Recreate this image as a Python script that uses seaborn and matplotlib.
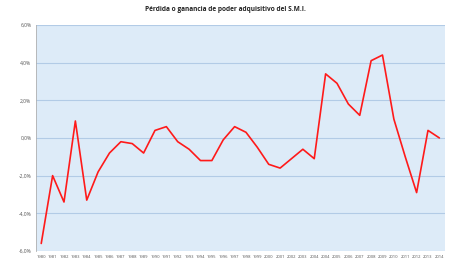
import matplotlib
matplotlib.use("Agg")
import matplotlib.pyplot as plt
import seaborn as sns
import pandas as pd
import numpy as np

years = ["1980","1981","1982","1983","1984","1985","1986","1987","1988","1989",
         "1990","1991","1992","1993","1994","1995","1996","1997","1998","1999",
         "2000","2001","2002","2003","2004","2004","2005","2006","2007","2008",
         "2009","2010","2011","2012","2013","2014"]
values = [-5.6,-2.0,-3.4,0.9,-3.3,-1.8,-0.8,-0.2,-0.3,-0.8,
          0.4,0.6,-0.2,-0.6,-1.2,-1.2,-0.1,0.6,0.3,-0.5,
          -1.4,-1.6,-1.1,-0.6,-1.1,3.4,2.9,1.8,1.2,4.1,
          4.4,1.0,-1.0,-2.9,0.4,0.0]
y_ticks = [-6,-4,-2,0,2,4,6]
title = "Pérdida o ganancia de poder adquisitivo del S.M.I."

sns.set_theme(style="white")
plt.rcParams['font.family'] = ['Open Sans', 'DejaVu Sans']

df = pd.DataFrame({"pos": range(len(years)), "val": values})

fig = plt.figure(figsize=(4.5, 2.62), dpi=100)
ax = fig.add_axes([0.079, 0.042, 0.91, 0.863])
ax.set_facecolor("#ddebf8")
sns.lineplot(data=df, x="pos", y="val", ax=ax, color="#ff1a1a", linewidth=1.2)

ax.set_xlim(-0.5, len(years) - 0.5)
ax.set_ylim(-6, 6)
ax.set_yticks(y_ticks)
ax.set_yticklabels([f"{t:.1f}".replace(".", ",") + "%" for t in y_ticks],
                   fontsize=3.6, color="#555555")
ax.set_xticks(range(len(years)))
ax.set_xticklabels(years, fontsize=3.0, color="#555555")
ax.tick_params(axis="both", length=0, pad=3)
ax.yaxis.grid(True, color="#b2cbe6", linewidth=0.8)
ax.xaxis.grid(False)
ax.set_axisbelow(True)
for s in ["top", "right", "bottom"]:
    ax.spines[s].set_visible(False)
ax.spines["left"].set_color("#b0b0b0")
ax.spines["left"].set_linewidth(0.6)
ax.set_xlabel("")
ax.set_ylabel("")
fig.text(0.5, 0.962, title, ha="center", va="center", fontsize=4.7,
         fontweight="bold", color="#222222")
fig.savefig("out.png", dpi=100, facecolor="white")
